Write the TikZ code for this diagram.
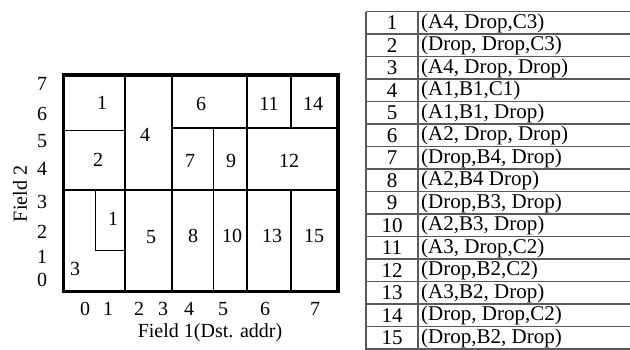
\documentclass[tikz,border=0pt]{standalone}
\usepackage{fontspec}
\setmainfont{Liberation Serif}
\usetikzlibrary{positioning}
\definecolor{TblRule}{HTML}{5A5A5A}
\tikzset{
  cellnum/.style={font=\fontsize{20}{20}\selectfont,inner sep=0pt},
  axisnum/.style={cellnum},
  rowtxt/.style={font=\fontsize{21}{21}\selectfont,inner sep=0pt},
  frameline/.style={line width=3.6pt},
  cutline/.style={line width=1.3pt},
  tblrule/.style={draw=TblRule,line width=1.5pt}
}

\begin{document}
\begin{tikzpicture}[x=1pt,y=-1pt]
    \useasboundingbox (0,0) rectangle (630,349);
    % region cuts
    \draw[cutline] (125,75) -- (125,291);
    \draw[cutline] (172,75) -- (172,291);
    \draw[cutline] (213.5,128) -- (213.5,291);
    \draw[cutline] (247,75) -- (247,291);
    \draw[cutline] (291,75) -- (291,128);
    \draw[cutline] (291,190) -- (291,291);
    \draw[cutline] (63,130.5) -- (125,130.5);
    \draw[cutline] (172,128) -- (338,128);
    \draw[cutline] (63,190) -- (338,190);
    \draw[cutline] (95.5,190) -- (95.5,250.5) -- (125,250.5);
    \draw[line width=2.4pt] (247,75.5) -- (291,75.5);
    \draw[frameline] (63.5,75) rectangle (338,291.5);
    % region labels
    \node[cellnum] (r1) at (102,103) {1};
    \node[cellnum] (r2) at (98,160) {2};
    \node[cellnum] (r4) at (145,135) {4};
    \node[cellnum] (r6) at (201,104) {6};
    \node[cellnum] (r11) at (269,104) {11};
    \node[cellnum] (r14) at (313,104) {14};
    \node[cellnum] (r7) at (190,161) {7};
    \node[cellnum] (r9) at (231,161) {9};
    \node[cellnum] (r12) at (289,161) {12};
    \node[cellnum] (r1b) at (113,219) {1};
    \node[cellnum] (r3) at (75,269) {3};
    \node[cellnum] (r5) at (151,237) {5};
    \node[cellnum] (r8) at (193,236) {8};
    \node[cellnum] (r10) at (232,236) {10};
    \node[cellnum] (r13) at (272,236) {13};
    \node[cellnum] (r15) at (314,236) {15};
    % axes
    \foreach \v/\y in {7/83.7,6/114,5/140.7,4/168.8,3/202,2/232,1/257,0/280}
      \node[axisnum] (fy\v) at (42,\y) {\v};
    \foreach \v/\x in {0/85,1/108,2/139,3/163,4/189,5/223,6/265,7/315}
      \node[axisnum] (fx\v) at (\x,309.3) {\v};
    \node[axisnum,rotate=90] (field2) at (20,194) {Field 2};
    \node[axisnum] (field1) at (210,333) {Field 1(Dst. addr)};
    % action table
    \foreach \k in {0,...,15}
      \draw[tblrule] (366,11.7+22.5*\k) -- (640,11.7+22.5*\k);
    \draw[tblrule] (366,11.7) -- (366,352);
    \draw[tblrule] (418,11.7) -- (418,352);
    \foreach \i/\t in {1/{(A4, Drop,C3)},2/{(Drop, Drop,C3)},3/{(A4, Drop, Drop)},
        4/{(A1,B1,C1)},5/{(A1,B1, Drop)},6/{(A2, Drop, Drop)},7/{(Drop,B4, Drop)},
        8/{(A2,B4 Drop)},9/{(Drop,B3, Drop)},10/{(A2,B3, Drop)},11/{(A3, Drop,C2)},
        12/{(Drop,B2,C2)},13/{(A3,B2, Drop)},14/{(Drop, Drop,C2)},15/{(Drop,B2, Drop)}}{
      \node[rowtxt] (num\i) at (392,11.7+22.5*\i-11.25) {\i};
      \node[rowtxt,anchor=west] (act\i) at (421,11.7+22.5*\i-11.25) {\t};
    }
  \end{tikzpicture}
\end{document}
